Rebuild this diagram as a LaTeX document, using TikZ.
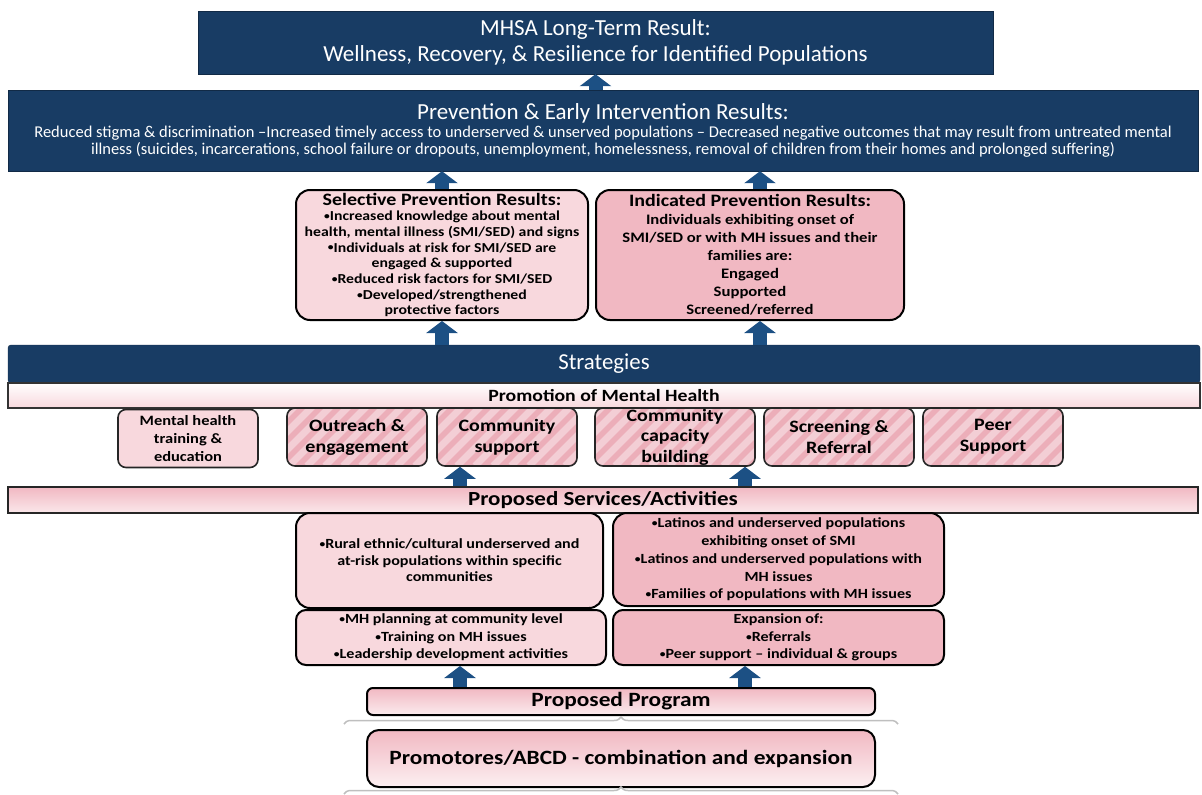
\documentclass[tikz,border=0pt]{standalone}
\usepackage{fontspec}
\setmainfont{Carlito}[FakeStretch=1.15]
\newfontfamily\hdrfont{Carlito}
\usetikzlibrary{arrows.meta}
\usetikzlibrary{decorations.pathreplacing}
\definecolor{navy}{RGB}{24,60,100}
\definecolor{arrblue}{RGB}{28,80,132}
\definecolor{pinklt}{RGB}{248,216,221}
\definecolor{pinkmd}{RGB}{241,184,194}
\definecolor{pinkst}{RGB}{236,174,185}
\newcommand\bul{\raisebox{1.2pt}{\fontsize{10}{10}\selectfont •}}
\tikzset{bar/.style={rectangle, fill=navy, draw=navy!70!black, text=white, inner sep=0pt, align=center, font=\hdrfont}}
\tikzset{cell/.style={rectangle, rounded corners=14pt, line width=2pt, draw, inner sep=0pt, align=center}}
\tikzset{tile/.style={rectangle, rounded corners=8pt, line width=1.6pt, draw=black!85, inner sep=0pt, align=center,
   minimum height=58pt, font=\bfseries\fontsize{17.4}{21}\selectfont}}
\tikzset{stripes/.style={fill=pinkst, path picture={
   \foreach \k in {0,...,14} \draw[white, opacity=.4, line width=7pt]
      ([xshift=\k*18pt-70pt]path picture bounding box.south west) -- ++(70pt,70pt);}}}
\tikzset{rise/.style={-{Triangle[width=31pt,length=12pt]}, line width=14pt, draw=arrblue}}
\tikzset{brc/.style={draw=black!25, line width=1.5pt, decorate, decoration={brace, amplitude=7pt}}}

\begin{document}
\begin{tikzpicture}[x=1pt, y=-1pt]

    \useasboundingbox (0,0) rectangle (1202,795);

    \node[bar, minimum width=795pt, minimum height=63pt, font=\hdrfont\fontsize{23}{26}\selectfont]
       (top) at (595.5,42.5) {MHSA Long-Term Result:\\Wellness, Recovery, \& Resilience for Identified Populations};

    \node[bar, minimum width=1190pt, minimum height=81pt, font=\hdrfont\fontsize{16.5}{17}\selectfont] (pei) at (603,130.5)
       {{\fontsize{23}{24}\selectfont Prevention \& Early Intervention Results:}\\[1pt]
        Reduced stigma \& discrimination –Increased timely access to underserved \& unserved populations – Decreased negative outcomes that may result  from untreated mental\\
        illness (suicides, incarcerations, school failure or dropouts, unemployment, homelessness, removal of children from their homes and prolonged suffering)};

    \node[cell, fill=pinklt, minimum width=292pt, minimum height=130pt, font=\bfseries\fontsize{13.7}{15.7}\selectfont]
       (sel) at (442,255) {{\fontsize{17.4}{19}\selectfont Selective Prevention Results:}\\
        \bul Increased knowledge about mental\\ health, mental illness (SMI/SED) and signs\\
        \bul Individuals at risk for SMI/SED are\\ engaged \& supported\\
        \bul Reduced risk factors for SMI/SED\\ \bul Developed/strengthened\\ protective factors};

    \node[cell, fill=pinkmd, minimum width=308pt, minimum height=130pt, font=\bfseries\fontsize{14.5}{18}\selectfont]
       (ind) at (750,255) {{\fontsize{17.4}{19}\selectfont Indicated Prevention Results:}\\
        Individuals exhibiting onset of\\ SMI/SED or with MH issues and their\\ families are:\\
        Engaged\\ Supported\\ Screened/referred};

    \node[bar, rounded corners=3pt, minimum width=1192pt, minimum height=38pt, font=\hdrfont\fontsize{22.8}{24}\selectfont]
       (strat) at (604,364) {Strategies};
    \node[rectangle, line width=1.4pt, draw=black!80, top color=white, bottom color=pinklt, minimum width=1192pt,
       minimum height=25pt, inner sep=0pt, font=\bfseries\fontsize{17.2}{18}\selectfont]
       (promo) at (604,395.5) {Promotion of Mental Health};

    \node[tile, fill=pinklt, minimum width=140pt, font=\bfseries\fontsize{14.3}{18}\selectfont]
       (s1) at (188,438.5) {Mental health\\ training \&\\ education};
    \node[tile, stripes, minimum width=140pt] (s2) at (357,437) {Outreach \&\\ engagement};
    \node[tile, stripes, minimum width=140pt] (s3) at (507,437) {Community\\ support};
    \node[tile, stripes, minimum width=160pt, font=\bfseries\fontsize{17.4}{20.5}\selectfont]
       (s4) at (675,437) {Community\\ capacity\\ building};
    \node[tile, stripes, minimum width=150pt] (s5) at (839,437) {Screening \&\\ Referral};
    \node[tile, stripes, minimum width=140pt] (s6) at (993,437) {Peer\\ Support};

    \node[rectangle, line width=1.6pt, draw=black!85, top color=pinkmd, bottom color=pinklt!60, minimum width=1190pt,
       minimum height=26pt, inner sep=0pt, font=\bfseries\fontsize{20}{20}\selectfont]
       (psvc) at (603,500) {Proposed Services/Activities};

    \node[cell, fill=pinklt, minimum width=307pt, minimum height=95pt, font=\bfseries\fontsize{14}{16.5}\selectfont]
       (lup) at (449.5,560.5) {\bul Rural ethnic/cultural underserved and\\ at-risk populations within specific\\ communities};
    \node[cell, fill=pinkmd, minimum width=331pt, minimum height=93pt, font=\bfseries\fontsize{14}{17.8}\selectfont]
       (rup) at (778.5,559.5) {\bul Latinos and underserved populations\\ exhibiting onset of SMI\\
        \bul Latinos and underserved populations with\\ MH issues\\ \bul Families of populations with MH issues};
    \node[cell, rounded corners=10pt, fill=pinklt, minimum width=310pt, minimum height=55pt, font=\bfseries\fontsize{14}{17.5}\selectfont]
       (llow) at (451,637.5) {\bul MH planning at community level\\ \bul Training on MH issues\\ \bul Leadership development activities};
    \node[cell, rounded corners=10pt, fill=pinkmd, minimum width=331pt, minimum height=55pt, font=\bfseries\fontsize{14}{17.5}\selectfont]
       (rlow) at (778.5,637.5) {Expansion of:\\ \bul Referrals\\ \bul Peer support – individual \& groups};

    \node[cell, rounded corners=6pt, top color=pinkmd, bottom color=pinklt!50, minimum width=508pt, minimum height=27pt,
       font=\bfseries\fontsize{20.3}{22}\selectfont] (pp) at (621,701.5) {Proposed Program};
    \node[cell, rounded corners=12pt, top color=pinkmd, bottom color=pinklt!40, minimum width=508pt, minimum height=57pt,
       font=\bfseries\fontsize{20.3}{22}\selectfont] (abcd) at (621,758.5) {Promotores/ABCD - combination and expansion};

    \coordinate (colL) at (460,0);
    \coordinate (colR) at (745,0);

    \draw[rise] (pei.north -| top.south) -- (top.south);
    \draw[rise] (sel.north) -- (sel.north |- pei.south);
    \draw[rise] ([xshift=10pt]ind.north) -- ([xshift=10pt]ind.north |- pei.south);
    \draw[rise] (strat.north -| sel.south) -- (sel.south);
    \draw[rise] ([xshift=10pt]strat.north -| ind.south) -- ([xshift=10pt]ind.south);
    \draw[rise] (psvc.north -| colL) -- (s3.south -| colL);
    \draw[rise] (psvc.north -| colR) -- (s4.south -| colR);
    \draw[rise] (pp.north -| colL) -- (llow.south -| colL);
    \draw[rise] (pp.north -| colR) -- (rlow.south -| colR);

    \draw[brc] ([xshift=-22pt,yshift=-8pt]pp.south west) -- ([xshift=22pt,yshift=-8pt]pp.south east);
    \draw[brc] ([xshift=-22pt,yshift=-6pt]abcd.south west) -- ([xshift=22pt,yshift=-6pt]abcd.south east);

  \end{tikzpicture}
\end{document}
